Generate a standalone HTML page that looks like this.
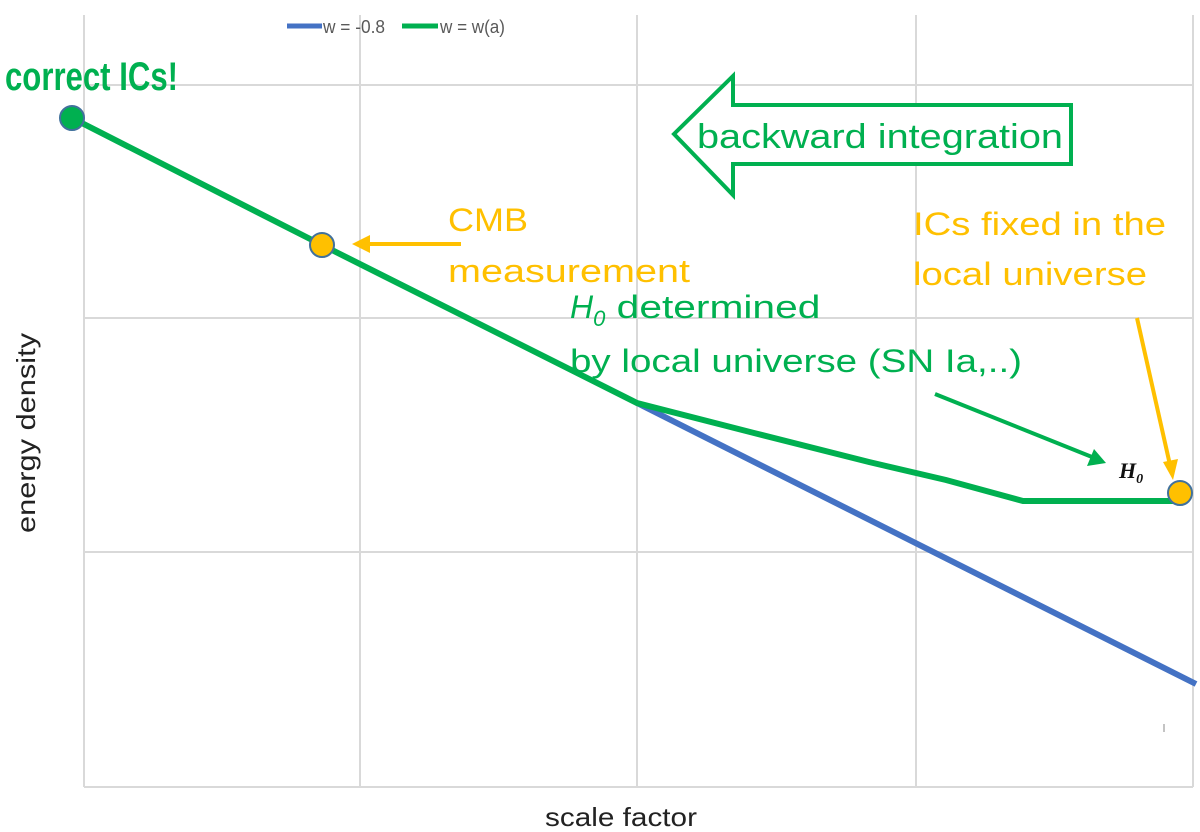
<!DOCTYPE html>
<html><head><meta charset="utf-8"><style>html,body{margin:0;padding:0;background:#fff}svg{display:block}</style></head>
<body>
<svg width="1200" height="832" viewBox="0 0 1200 832" xmlns="http://www.w3.org/2000/svg" font-family="Liberation Sans, sans-serif">
<g stroke="#d9d9d9" stroke-width="2">
<line x1="84" y1="85" x2="1193" y2="85"/>
<line x1="84" y1="318" x2="1193" y2="318"/>
<line x1="84" y1="552" x2="1193" y2="552"/>
<line x1="84" y1="787" x2="1193" y2="787"/>
<line x1="84" y1="15" x2="84" y2="787"/>
<line x1="360" y1="15" x2="360" y2="787"/>
<line x1="637" y1="15" x2="637" y2="787"/>
<line x1="916" y1="15" x2="916" y2="787"/>
<line x1="1193" y1="15" x2="1193" y2="787"/>
</g>
<line x1="287" y1="26" x2="322" y2="26" stroke="#4472C4" stroke-width="5"/>
<text x="323" y="33" font-size="18" fill="#595959" textLength="62" lengthAdjust="spacingAndGlyphs">w = -0.8</text>
<line x1="402" y1="26" x2="438" y2="26" stroke="#00B050" stroke-width="5"/>
<text x="440" y="33" font-size="18" fill="#595959" textLength="65" lengthAdjust="spacingAndGlyphs">w = w(a)</text>
<polyline points="637,403 1196,684" fill="none" stroke="#4472C4" stroke-width="6"/>
<polyline points="72,118 322,245 637,403 754,433 869,462 946,480 1023,501 1181,501" fill="none" stroke="#00B050" stroke-width="6"/>
<circle cx="72" cy="118" r="12" fill="#00B050" stroke="#41719C" stroke-width="2"/>
<circle cx="322" cy="245" r="12" fill="#FFC000" stroke="#41719C" stroke-width="2"/>
<circle cx="1180" cy="493" r="12" fill="#FFC000" stroke="#41719C" stroke-width="2"/>
<text x="5" y="90" font-size="40" font-weight="bold" fill="#00B050" textLength="173" lengthAdjust="spacingAndGlyphs">correct ICs!</text>
<polygon points="674,134 733,76 733,105 1071,105 1071,164 733,164 733,195" fill="#fff" stroke="#00B050" stroke-width="4"/>
<text x="697" y="148" font-size="34" fill="#00B050" textLength="366" lengthAdjust="spacingAndGlyphs">backward integration</text>
<g fill="#FFC000" font-size="32">
<text x="448" y="231" textLength="80" lengthAdjust="spacingAndGlyphs">CMB</text>
<text x="448" y="282" textLength="242" lengthAdjust="spacingAndGlyphs">measurement</text>
<text x="913" y="235" textLength="253" lengthAdjust="spacingAndGlyphs">ICs fixed in the</text>
<text x="913" y="285" textLength="234" lengthAdjust="spacingAndGlyphs">local universe</text>
</g>
<line x1="461" y1="244" x2="365" y2="244" stroke="#FFC000" stroke-width="4"/>
<polygon points="352,244 370,235 370,253" fill="#FFC000"/>
<line x1="1137" y1="318" x2="1170" y2="465" stroke="#FFC000" stroke-width="4"/>
<polygon points="1173,480 1163,462 1178,459" fill="#FFC000"/>
<g fill="#00B050" font-size="32">
<text x="570" y="318"><tspan font-style="italic">H</tspan><tspan font-style="italic" font-size="22" dy="8">0</tspan><tspan dy="-8" textLength="215" lengthAdjust="spacingAndGlyphs"> determined</tspan></text>
<text x="570" y="372" textLength="452" lengthAdjust="spacingAndGlyphs">by local universe (SN Ia,..)</text>
</g>
<line x1="935" y1="394" x2="1092" y2="457" stroke="#00B050" stroke-width="4"/>
<polygon points="1106,463 1087,466 1094,449" fill="#00B050"/>
<text x="1119" y="478" font-family="Liberation Serif, serif" font-weight="bold" font-style="italic" font-size="22" fill="#111">H<tspan font-size="14" dy="5">0</tspan></text>
<text x="545" y="826" font-size="26" fill="#222" textLength="152" lengthAdjust="spacingAndGlyphs">scale factor</text>
<text transform="translate(35,533) rotate(-90)" font-size="26" fill="#222" textLength="200" lengthAdjust="spacingAndGlyphs">energy density</text>
<line x1="1164" y1="724" x2="1164" y2="732" stroke="#888" stroke-width="1"/>
</svg>
</body></html>
